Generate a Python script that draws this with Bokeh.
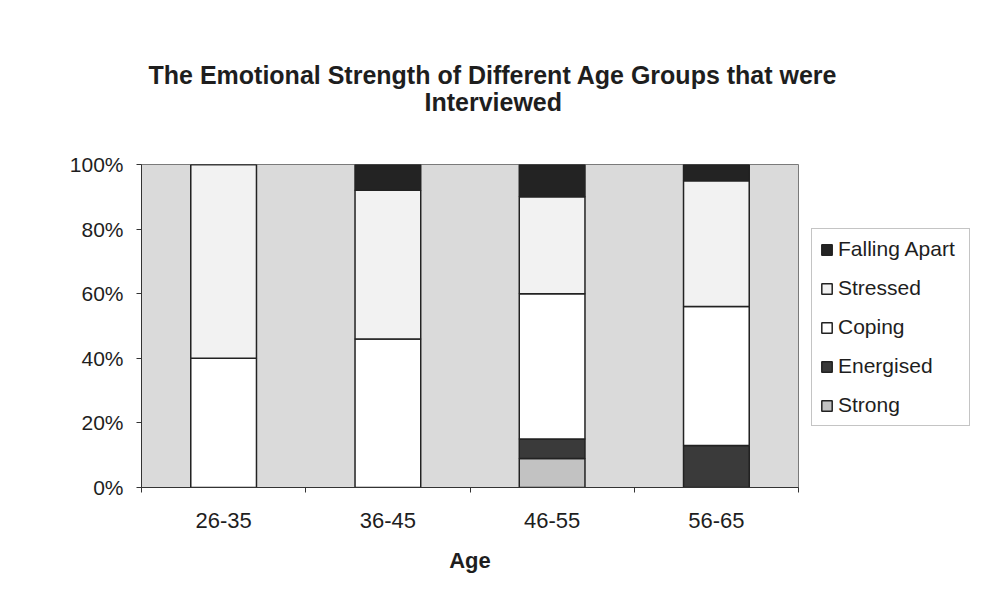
import numpy as np
from bokeh.plotting import figure
from bokeh.models import (ColumnDataSource, FixedTicker, PrintfTickFormatter,
                          Legend, LegendItem, Range1d, Title)
from bokeh.embed import file_html
from bokeh.resources import INLINE

# ---- data ----
ages = ["26-35", "36-45", "46-55", "56-65"]
strong = [0, 0, 9, 0]
energised = [0, 0, 6, 13]
coping = [40, 46, 45, 43]
stressed = [60, 46, 30, 39]
falling_apart = [0, 8, 10, 5]
y_ticks = [0, 20, 40, 60, 80, 100]

series = ["Strong", "Energised", "Coping", "Stressed", "Falling Apart"]
colors = ["#c2c2c2", "#3a3a3a", "#ffffff", "#f2f2f2", "#232323"]
title_lines = ["The Emotional Strength of Different Age Groups that were",
               "Interviewed"]

xpos = list(np.arange(len(ages)) + 0.5)
source = ColumnDataSource(dict(x=xpos, Strong=strong, Energised=energised,
                               Coping=coping, Stressed=stressed,
                               **{"Falling Apart": falling_apart}))

FONT = "Liberation Sans"
TXT = "#1e1e1e"

p = figure(output_backend="svg", toolbar_location=None,
           frame_width=657, frame_height=323,
           min_border_left=141, min_border_right=175,
           min_border_top=164, min_border_bottom=109,
           x_range=Range1d(0, len(ages)), y_range=Range1d(0, 100))
p.title = None

renderers = p.vbar_stack(series, x="x", width=0.4, source=source,
                         fill_color=colors, line_color="#222222", line_width=1.5)

p.background_fill_color = "#dadada"
p.border_fill_color = "white"
p.outline_line_color = "#7a7a7a"
p.outline_line_width = 1
p.xgrid.visible = False
p.ygrid.visible = False

# title: spacer nearest the frame, then the two title lines
title_style = dict(text_font=FONT, text_font_size="25px", text_font_style="bold",
                   text_color=TXT)
t0 = Title(text=" ", align="left", standoff=21, **title_style)
t2 = Title(text=title_lines[1], align="left", offset=283, standoff=-5, **title_style)
t1 = Title(text=title_lines[0], align="left", offset=7, standoff=-1, **title_style)
p.add_layout(t0, "above")
p.add_layout(t2, "above")
p.add_layout(t1, "above")

# x axis
xa = p.xaxis[0]
xa.ticker = FixedTicker(ticks=xpos, minor_ticks=list(range(len(ages) + 1)))
xa.major_label_overrides = {float(x): a for x, a in zip(xpos, ages)}
xa.major_tick_out = 0
xa.major_tick_in = 0
xa.minor_tick_out = 5
xa.minor_tick_in = 0
xa.major_label_standoff = 20
xa.major_label_text_font = FONT
xa.major_label_text_font_size = "22px"
xa.major_label_text_color = TXT
xa.axis_label = "Age"
xa.axis_label_text_font = FONT
xa.axis_label_text_font_size = "22px"
xa.axis_label_text_font_style = "bold"
xa.axis_label_text_color = TXT
xa.axis_label_standoff = 17
xa.axis_line_color = "#333333"
xa.minor_tick_line_color = "#333333"

# y axis
ya = p.yaxis[0]
ya.ticker = FixedTicker(ticks=y_ticks, minor_ticks=[])
ya.formatter = PrintfTickFormatter(format="%d%%")
ya.major_tick_out = 5
ya.major_tick_in = 0
ya.major_label_standoff = 13
ya.major_label_text_font = FONT
ya.major_label_text_font_size = "21px"
ya.major_label_text_color = TXT
ya.axis_line_color = "#333333"
ya.major_tick_line_color = "#333333"

# legend (top item = top of stack), placed in the right-hand panel
items = [LegendItem(label=s, renderers=[r]) for s, r in zip(series, renderers)][::-1]
legend = Legend(items=items, location=(13, 61),
                label_text_font=FONT, label_text_font_size="21px",
                label_text_color=TXT, label_height=21, label_width=123,
                label_standoff=5,
                glyph_height=13, glyph_width=13, spacing=15, padding=8, margin=0,
                border_line_color="#8a8a8a", border_line_width=1,
                background_fill_color="white", background_fill_alpha=1)
p.add_layout(legend, "right")

open("out.html", "w").write(file_html(p, INLINE))
